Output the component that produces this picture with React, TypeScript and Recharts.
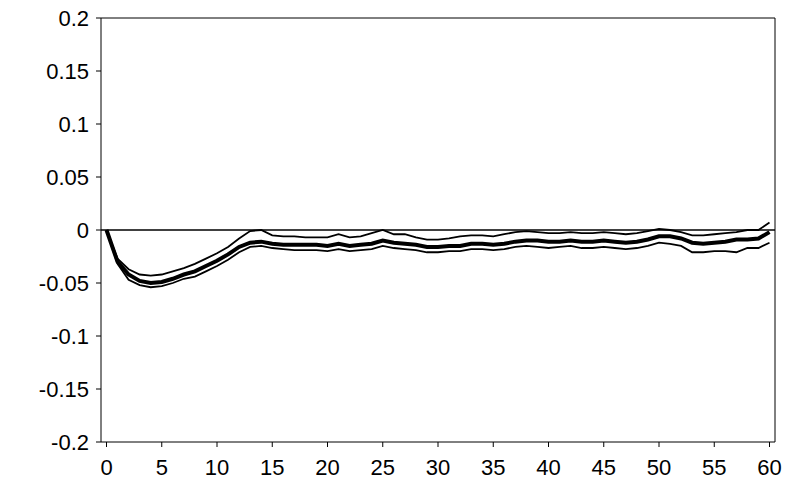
import { LineChart, Line, XAxis, YAxis, ReferenceLine } from 'recharts';

const xs = Array.from({ length: 61 }, (_, i) => i);
const mid = [0, -0.03, -0.042, -0.048, -0.05, -0.049, -0.046, -0.042, -0.039, -0.034, -0.029, -0.023, -0.016, -0.012, -0.011, -0.013, -0.014, -0.014, -0.014, -0.014, -0.015, -0.013, -0.015, -0.014, -0.013, -0.01, -0.012, -0.013, -0.014, -0.016, -0.016, -0.015, -0.015, -0.013, -0.013, -0.014, -0.013, -0.011, -0.01, -0.01, -0.011, -0.011, -0.01, -0.011, -0.011, -0.01, -0.011, -0.012, -0.011, -0.009, -0.006, -0.006, -0.008, -0.012, -0.013, -0.012, -0.011, -0.009, -0.009, -0.008, -0.002];
const upper = [0, -0.027, -0.037, -0.042, -0.043, -0.042, -0.039, -0.036, -0.032, -0.027, -0.022, -0.016, -0.008, -0.001, 0, -0.005, -0.006, -0.006, -0.007, -0.007, -0.007, -0.004, -0.007, -0.006, -0.003, 0, -0.004, -0.004, -0.007, -0.009, -0.009, -0.008, -0.006, -0.005, -0.005, -0.006, -0.004, -0.002, -0.001, -0.002, -0.003, -0.003, -0.002, -0.003, -0.003, -0.002, -0.003, -0.004, -0.003, -0.001, 0.001, 0, -0.002, -0.005, -0.005, -0.004, -0.003, -0.002, 0, 0, 0.007];
const lower = [0, -0.032, -0.047, -0.052, -0.054, -0.053, -0.05, -0.046, -0.044, -0.039, -0.034, -0.028, -0.021, -0.016, -0.015, -0.017, -0.018, -0.019, -0.019, -0.019, -0.02, -0.018, -0.02, -0.019, -0.018, -0.015, -0.017, -0.018, -0.019, -0.021, -0.021, -0.02, -0.02, -0.018, -0.018, -0.019, -0.018, -0.016, -0.015, -0.016, -0.017, -0.016, -0.015, -0.017, -0.017, -0.016, -0.017, -0.018, -0.017, -0.015, -0.012, -0.013, -0.015, -0.021, -0.021, -0.02, -0.02, -0.021, -0.017, -0.017, -0.012];
const yTicks = [-0.2, -0.15, -0.1, -0.05, 0, 0.05, 0.1, 0.15, 0.2];

const data = xs.map((x, i) => ({ x, mid: mid[i], upper: upper[i], lower: lower[i] }));

const font = { fontFamily: 'Liberation Sans, Arial, sans-serif', fontSize: 22, fill: '#000' };

export default function App() {
  return (
    <div style={{ position: 'absolute', left: 0, top: 0, background: '#fff' }}>
      <LineChart width={803} height={498} data={data} margin={{ top: 17, right: 27, left: 8, bottom: 10 }}>
        <XAxis dataKey="x" interval={4} padding={{ left: 5.5, right: 5.5 }} stroke="#000" tick={font} tickSize={5} tickMargin={12} height={46} />
        <XAxis xAxisId="top" orientation="top" dataKey="x" stroke="#000" tick={false} tickLine={false} height={1} />
        <YAxis domain={[-0.2, 0.2]} ticks={yTicks} stroke="#000" tick={font} tickSize={5} tickMargin={7} width={93} tickFormatter={(v) => String(v)} />
        <YAxis yAxisId="r" orientation="right" domain={[-0.2, 0.2]} stroke="#000" tick={false} tickLine={false} width={1} />
        <ReferenceLine y={0} stroke="#000" strokeWidth={1.5} />
        <Line dataKey="upper" stroke="#000" strokeWidth={1.8} dot={false} isAnimationActive={false} />
        <Line dataKey="lower" stroke="#000" strokeWidth={1.8} dot={false} isAnimationActive={false} />
        <Line dataKey="mid" stroke="#000" strokeWidth={4} dot={false} isAnimationActive={false} />
      </LineChart>
    </div>
  );
}
